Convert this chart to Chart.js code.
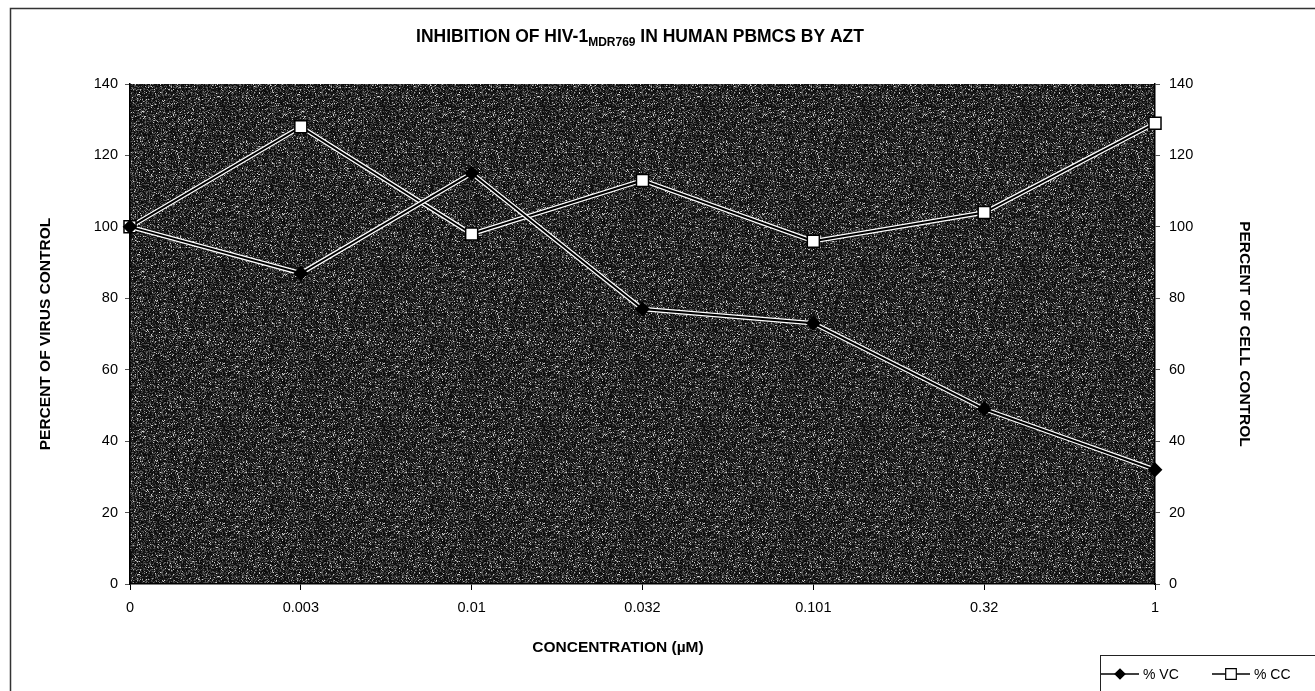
<!DOCTYPE html>
<html lang="en">
<head>
<meta charset="UTF-8">
<title>Inhibition of HIV-1 MDR769 by AZT</title>
<script src="https://cdn.jsdelivr.net/npm/chart.js@4.4.1/dist/chart.umd.min.js"></script>
<style>
  html, body { margin: 0; padding: 0; background: #fff; }
  #wrap { width: 1315px; height: 691px; position: relative; }
</style>
</head>
<body>
<div id="wrap"><canvas id="chart"></canvas></div>
<script>
    const concentrations = ['0', '0.003', '0.01', '0.032', '0.101', '0.32', '1'];
    const pctVC = [100, 87, 115, 77, 73, 49, 32];
    const pctCC = [100, 128, 98, 113, 96, 104, 129];
    const seriesNames = ['% VC', '% CC'];
    const yTicks = [0, 20, 40, 60, 80, 100, 120, 140];
    const xTitle = 'CONCENTRATION (µM)';

    const FONT = '"Liberation Sans", Arial, sans-serif';

    // grainy dark fill for the plot area (fixed seed, just texture)
    function makeNoise() {
        const c = document.createElement('canvas');
        c.width = 160; c.height = 160;
        const g = c.getContext('2d');
        const img = g.createImageData(160, 160);
        let s = 12345;
        for (let i = 0; i < 160 * 160; i++) {
            s = (s * 1103515245 + 12345) & 0x7fffffff;
            const r = s / 0x7fffffff;
            let v;
            if (r < 0.55) v = 5 + r * 45;
            else if (r < 0.93) v = 35 + (r - 0.55) * 180;
            else v = 120 + (r - 0.93) * 1500;
            v = Math.min(255, v);
            img.data[i * 4] = v; img.data[i * 4 + 1] = v; img.data[i * 4 + 2] = v; img.data[i * 4 + 3] = 255;
        }
        g.putImageData(img, 0, 0);
        return c;
    }
    const noise = makeNoise();

    const decor = {
        id: 'decor',
        beforeDraw(chart) {
            const ctx = chart.ctx;
            const a = chart.chartArea;
            ctx.save();
            ctx.fillStyle = ctx.createPattern(noise, 'repeat');
            ctx.fillRect(a.left, a.top, a.right - a.left, a.bottom - a.top);
            // page frame
            ctx.strokeStyle = '#333';
            ctx.lineWidth = 1.5;
            ctx.beginPath();
            ctx.moveTo(10.5, 700); ctx.lineTo(10.5, 8.5); ctx.lineTo(1320, 8.5);
            ctx.stroke();
            ctx.restore();
        },
        beforeDatasetDraw(chart, args) {
            // white halo under each line
            const ctx = chart.ctx;
            const pts = args.meta.data;
            ctx.save();
            ctx.strokeStyle = '#fff';
            ctx.lineWidth = 4.5;
            ctx.beginPath();
            pts.forEach((p, i) => i ? ctx.lineTo(p.x, p.y) : ctx.moveTo(p.x, p.y));
            ctx.stroke();
            ctx.restore();
        },
        afterDraw(chart) {
            const ctx = chart.ctx;
            ctx.save();
            // title with subscript
            const main1 = 'INHIBITION OF HIV-1';
            const sub = 'MDR769';
            const main2 = ' IN HUMAN PBMCS BY AZT';
            ctx.fillStyle = '#000';
            ctx.textBaseline = 'alphabetic';
            ctx.font = 'bold 17.5px ' + FONT;
            const w1 = ctx.measureText(main1).width;
            const w3 = ctx.measureText(main2).width;
            ctx.font = 'bold 12px ' + FONT;
            const w2 = ctx.measureText(sub).width;
            let x = 640 - (w1 + w2 + w3) / 2;
            const y = 42;
            ctx.font = 'bold 17.5px ' + FONT;
            ctx.fillText(main1, x, y); x += w1;
            ctx.font = 'bold 12px ' + FONT;
            ctx.fillText(sub, x, y + 4); x += w2;
            ctx.font = 'bold 17.5px ' + FONT;
            ctx.fillText(main2, x, y);

            // x axis title (sits a little left of centre in the original)
            ctx.font = 'bold 15.5px ' + FONT;
            ctx.textAlign = 'center';
            ctx.textBaseline = 'middle';
            ctx.fillText(xTitle, 618, 648);
            ctx.textAlign = 'left';

            // legend box
            ctx.strokeStyle = '#222';
            ctx.lineWidth = 1;
            ctx.strokeRect(1100.5, 655.5, 240, 60);
            ctx.font = '14px ' + FONT;
            const ly = 674;
            const items = [
                { x0: 1101, style: 'rectRot', fill: '#000', r: 5 },
                { x0: 1212, style: 'rect', fill: '#fff', r: 7.5 }
            ];
            items.forEach((it, i) => {
                ctx.strokeStyle = '#000';
                ctx.lineWidth = 1.5;
                ctx.beginPath();
                ctx.moveTo(it.x0, ly); ctx.lineTo(it.x0 + 38, ly);
                ctx.stroke();
                ctx.fillStyle = it.fill;
                ctx.lineWidth = 1.2;
                Chart.helpers.drawPoint(ctx, { pointStyle: it.style, radius: it.r, borderWidth: 1.2 }, it.x0 + 19, ly);
                ctx.fillStyle = '#000';
                ctx.fillText(seriesNames[i], it.x0 + 42, ly + 1);
            });
            ctx.restore();
        }
    };

    const tickFont = { family: FONT, size: 14.5 };
    const titleFont = { family: FONT, size: 15.5, weight: 'bold' };

    new Chart(document.getElementById('chart'), {
        type: 'line',
        data: {
            labels: concentrations,
            datasets: [{
                label: seriesNames[0],
                data: pctVC,
                yAxisID: 'y',
                borderColor: '#000',
                borderWidth: 2,
                pointStyle: 'rectRot',
                pointRadius: 6,
                pointBackgroundColor: '#000',
                pointBorderColor: '#000',
                tension: 0
            }, {
                label: seriesNames[1],
                data: pctCC,
                yAxisID: 'y2',
                borderColor: '#000',
                borderWidth: 2,
                pointStyle: 'rect',
                pointRadius: 8.5,
                pointBackgroundColor: '#fff',
                pointBorderColor: '#000',
                pointBorderWidth: 1.5,
                tension: 0
            }]
        },
        options: {
            responsive: true,
            maintainAspectRatio: false,
            animation: false,
            layout: { padding: { top: 84, left: 0, right: 0, bottom: 0 } },
            plugins: {
                legend: { display: false },
                title: { display: false },
                tooltip: { enabled: false }
            },
            scales: {
                x: {
                    offset: false,
                    grid: { display: true, drawOnChartArea: false, drawTicks: true, tickLength: 6, color: '#000', offset: false },
                    border: { display: true, color: '#000', width: 1.5 },
                    ticks: { color: '#000', font: tickFont, padding: 9, maxRotation: 0, autoSkip: false },
                    title: { display: false },
                    afterFit(s) { s.height = 107; }
                },
                y: {
                    position: 'left',
                    min: 0, max: 140,
                    afterBuildTicks(s) { s.ticks = yTicks.map(v => ({ value: v })); },
                    grid: { display: true, drawOnChartArea: false, drawTicks: true, tickLength: 5, color: '#555' },
                    border: { display: true, color: '#000', width: 1.5 },
                    ticks: { color: '#000', font: tickFont, padding: 7 },
                    title: { display: true, text: 'PERCENT OF VIRUS CONTROL', color: '#000', font: titleFont, padding: { top: 36, bottom: 0 } },
                    afterFit(s) { s.width = 130; }
                },
                y2: {
                    position: 'right',
                    min: 0, max: 140,
                    afterBuildTicks(s) { s.ticks = yTicks.map(v => ({ value: v })); },
                    grid: { display: true, drawOnChartArea: false, drawTicks: true, tickLength: 5, color: '#555' },
                    border: { display: true, color: '#000', width: 1.5 },
                    ticks: { color: '#000', font: tickFont, padding: 9 },
                    title: { display: true, text: 'PERCENT OF CELL CONTROL', color: '#000', font: titleFont, padding: { top: 61, bottom: 0 } },
                    afterFit(s) { s.width = 160; }
                }
            }
        },
        plugins: [decor]
    });
</script>
</body>
</html>
